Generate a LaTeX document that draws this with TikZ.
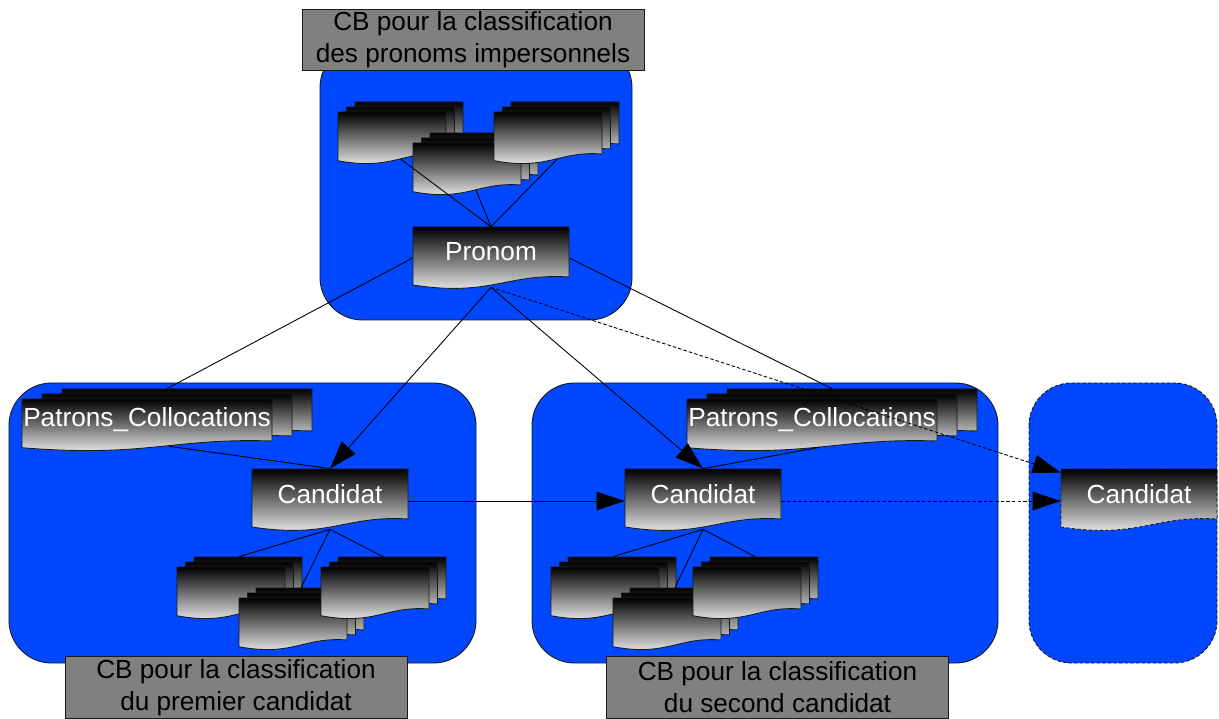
\documentclass[tikz,border=0pt]{standalone}
\usepackage{fontspec}
\setmainfont{Liberation Sans}
\usetikzlibrary{arrows.meta, calc}
\definecolor{panelblue}{RGB}{0,71,255}

\newcommand{\docshape}[4][]{%
    \begin{scope}[shift={#2}]
        \draw[docfill, #1] (0,0) -- (#3,0) -- (#3,-#4) .. controls (0.6*#3,-0.92*#4) and (0.5*#3,-1.4*#4) .. (0,-1.16*#4) -- cycle;
    \end{scope}}

\newcommand{\docstack}[6][]{%
    \docshape{(#3+2*#6,#4+0.2)}{#5}{0.84}
    \docshape{(#3+#6,#4+0.1)}{#5}{0.84}
    \docshape{(#3,#4)}{#5}{0.84}
    \node[stackbox, minimum width=#5cm] (#2) at (#3+0.5*#5,#4-0.42) {#1};}

\begin{document}
\begin{tikzpicture}[
        panel/.style={fill=panelblue, draw=black!90, line width=0.5pt, rounded corners=0.85cm},
        cblabel/.style={rectangle, draw=black!90, fill=black!50, minimum width=6.84cm, minimum height=1.23cm, align=center, inner sep=0pt, font=\fontsize{14.9}{18.2}\selectfont},
        docfill/.style={draw=black!90, line width=0.5pt, top color=black, bottom color=white},
        doc/.style={rectangle, minimum width=3.12cm, minimum height=1cm, inner sep=0pt, text=white, font=\fontsize{14.9}{18.2}\selectfont},
        stackbox/.style={rectangle, minimum height=0.84cm, inner sep=0pt, text=white, font=\fontsize{14.9}{18.2}\selectfont},
        link/.style={draw=black, line width=0.5pt},
        flow/.style={link, -{Triangle[length=0.56cm, width=0.37cm]}},
        maybe/.style={flow, dash pattern=on 2pt off 1.2pt}
    ]
        \useasboundingbox (0,0) rectangle (24.38,-14.38);
        \draw[panel] (6.4,-0.9) rectangle (12.64,-6.4);
        \draw[panel] (0.18,-7.66) rectangle (9.52,-13.26);
        \draw[panel] (10.64,-7.66) rectangle (19.96,-13.26);
        \draw[panel, dash pattern=on 2pt off 1.2pt] (20.58,-7.66) rectangle (24.34,-13.26);
        \node[cblabel] (cbpronoms) at (9.46,-0.8) {CB pour la classification\\des pronoms impersonnels};
        \node[cblabel] (cbfirst) at (4.72,-13.75) {CB pour la classification\\du premier candidat};
        \node[cblabel] (cbsecond) at (15.55,-13.75) {CB pour la classification\\du second candidat};
        \docstack{pstackA}{6.76}{-2.24}{2.16}{0.17}
        \docstack{pstackB}{8.26}{-2.86}{2.16}{0.17}
        \docstack{pstackC}{9.88}{-2.24}{2.16}{0.17}
        \docshape{(8.26,-4.54)}{3.12}{1}
        \node[doc] (pronom) at (9.82,-5.04) {Pronom};
        \docstack[Patrons\_Collocations]{lpatrons}{0.44}{-7.98}{5.0}{0.4}
        \docstack[Patrons\_Collocations]{mpatrons}{13.74}{-7.98}{5.0}{0.4}
        \docshape{(5.04,-9.38)}{3.12}{1}
        \node[doc] (lcand) at (6.6,-9.88) {Candidat};
        \docshape{(12.5,-9.38)}{3.12}{1}
        \node[doc] (mcand) at (14.06,-9.88) {Candidat};
        \docshape[dash pattern=on 2pt off 1.2pt]{(21.22,-9.38)}{3.12}{1}
        \node[doc] (rcand) at (22.78,-9.88) {Candidat};
        \docstack{lstackA}{3.54}{-11.34}{2.16}{0.17}
        \docstack{lstackB}{4.78}{-11.96}{2.16}{0.17}
        \docstack{lstackC}{6.42}{-11.34}{2.16}{0.17}
        \docstack{mstackA}{11.02}{-11.34}{2.16}{0.17}
        \docstack{mstackB}{12.26}{-11.96}{2.16}{0.17}
        \docstack{mstackC}{13.86}{-11.34}{2.16}{0.17}
        \foreach \s in {pstackA, pstackB, pstackC}
            \draw[link] ([shift={(0.18,-0.1)}]\s.south) -- (pronom.north);
        \draw[link] ([yshift=-0.12cm]pronom.west) -- ([shift={(0.4,0.2)}]lpatrons.north);
        \draw[link] ([yshift=-0.12cm]pronom.east) -- ([shift={(0.4,0.2)}]mpatrons.north);
        \draw[flow] ([yshift=-0.2cm]pronom.south) -- (lcand.north);
        \draw[flow] ([yshift=-0.2cm]pronom.south) -- (mcand.north);
        \draw[maybe] ([yshift=-0.2cm]pronom.south) -- ([yshift=-0.08cm]rcand.north west);
        \draw[link] ([shift={(0.45,-0.1)}]lpatrons.south) -- (lcand.north);
        \draw[link] ([shift={(0.15,-0.12)}]mpatrons.south) -- (mcand.north);
        \draw[flow] ([yshift=-0.14cm]lcand.east) -- ([yshift=-0.14cm]mcand.west);
        \draw[maybe] ([yshift=-0.14cm]mcand.east) -- ([yshift=-0.14cm]rcand.west);
        \foreach \s in {lstackA, lstackB, lstackC}
            \draw[link] ([yshift=-0.2cm]lcand.south) -- ([shift={(0.16,0.2)}]\s.north);
        \foreach \s in {mstackA, mstackB, mstackC}
            \draw[link] ([yshift=-0.2cm]mcand.south) -- ([shift={(0.16,0.2)}]\s.north);
    \end{tikzpicture}
\end{document}
